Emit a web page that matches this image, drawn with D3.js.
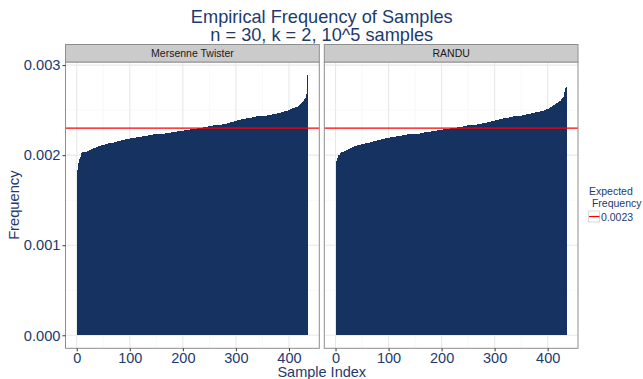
<!DOCTYPE html>
<html>
<head>
<meta charset="utf-8">
<script src="https://cdn.jsdelivr.net/npm/d3@7/dist/d3.min.js"></script>
<style>
  body { margin: 0; background: #fff; }
  text { font-family: "Liberation Sans", Arial, sans-serif; }
</style>
</head>
<body>
<div id="chart"></div>
<script>
// how many times each of the 435 (= choose(30, 2)) samples came up in 10^5 draws, sorted
const mersenneCounts = [
  183,188,191,193,196,197,198,201,202,202, 203,203,203,203,204,204,204,204,205,205,
  205,205,205,206,206,206,206,207,207,207, 207,208,208,208,208,209,209,209,209,209,
  210,210,210,210,210,210,211,211,211,211, 211,211,211,212,212,212,212,212,212,213,
  213,213,213,213,214,214,214,214,214,215, 215,215,215,215,215,216,216,216,216,216,
  216,216,216,217,217,217,217,217,217,217, 217,218,218,218,218,218,218,218,218,218,
  219,219,219,219,219,219,219,219,219,219, 219,220,220,220,220,220,220,220,220,220,
  220,220,221,221,221,221,221,221,221,221, 221,221,221,222,222,222,222,222,222,222,
  222,222,222,223,223,223,223,223,223,223, 223,223,223,223,224,224,224,224,224,224,
  224,224,224,224,224,225,225,225,225,225, 225,225,225,225,225,225,225,226,226,226,
  226,226,226,226,226,226,226,226,227,227, 227,227,227,227,227,227,227,227,227,227,
  227,228,228,228,228,228,228,228,228,228, 228,228,228,229,229,229,229,229,229,229,
  229,229,229,229,229,229,230,230,230,230, 230,230,230,230,230,230,230,231,231,231,
  231,231,231,231,231,231,232,232,232,232, 232,232,232,232,232,232,233,233,233,233,
  233,233,233,233,233,234,234,234,234,234, 234,234,234,234,235,235,235,235,235,235,
  235,235,236,236,236,236,236,236,237,237, 237,237,237,237,237,238,238,238,238,238,
  238,238,239,239,239,239,239,239,239,240, 240,240,240,240,240,240,240,240,241,241,
  241,241,241,241,241,241,241,241,241,242, 242,242,242,242,242,242,242,243,243,243,
  243,243,243,243,243,243,243,244,244,244, 244,244,244,244,244,244,244,244,245,245,
  245,245,245,245,245,245,245,246,246,246, 246,246,246,246,246,246,246,247,247,247,
  247,247,247,247,248,248,248,248,248,248, 248,249,249,249,249,249,249,250,250,250,
  250,250,251,251,251,251,252,252,252,252, 253,253,253,254,254,254,255,255,256,256,
  257,257,258,258,259,259,260,261,262,263, 264,266,268,272,289
];

const randuCounts = [
  190,193,195,197,199,200,200,201,202,203, 203,203,204,204,204,204,205,205,205,206,
  206,206,206,207,207,207,207,208,208,208, 208,209,209,209,209,210,210,210,210,210,
  211,211,211,211,211,211,211,212,212,212, 212,212,212,212,212,213,213,213,213,213,
  214,214,214,214,214,215,215,215,215,215, 215,216,216,216,216,216,216,216,217,217,
  217,217,217,217,217,218,218,218,218,218, 218,218,218,219,219,219,219,219,219,219,
  219,219,219,220,220,220,220,220,220,220, 220,220,220,220,221,221,221,221,221,221,
  221,221,221,221,222,222,222,222,222,222, 222,222,222,222,222,223,223,223,223,223,
  223,223,223,223,223,223,223,224,224,224, 224,224,224,224,224,224,224,224,225,225,
  225,225,225,225,225,225,225,226,226,226, 226,226,226,226,226,226,226,226,226,227,
  227,227,227,227,227,227,227,227,227,227, 227,228,228,228,228,228,228,228,228,228,
  228,228,229,229,229,229,229,229,229,229, 229,229,229,229,229,229,230,230,230,230,
  230,230,230,230,230,230,230,230,231,231, 231,231,231,231,231,231,231,231,231,232,
  232,232,232,232,232,232,232,232,233,233, 233,233,233,233,233,233,233,233,234,234,
  234,234,234,234,234,234,234,235,235,235, 235,235,235,235,235,235,236,236,236,236,
  236,236,236,236,236,237,237,237,237,237, 237,237,237,238,238,238,238,238,238,238,
  238,239,239,239,239,239,239,239,240,240, 240,240,240,240,240,240,241,241,241,241,
  241,241,241,241,241,241,242,242,242,242, 242,242,242,242,243,243,243,243,243,243,
  243,243,244,244,244,244,244,244,244,244, 244,245,245,245,245,245,245,245,245,246,
  246,246,246,246,246,246,246,246,247,247, 247,247,247,247,247,247,248,248,248,248,
  248,248,248,248,248,249,249,249,249,249, 249,249,250,250,250,250,250,251,251,251,
  251,251,252,252,253,253,254,254,255,255, 256,256,256,257,257,257,258,258,258,259,
  259,260,260,260,261,262,262,263,264,265, 268,270,274,275,276
];

const totalDraws = 1e5;
const expectedFreq = 0.0023;
const panelNames = ["Mersenne Twister", "RANDU"];
const xTicks = [0, 100, 200, 300, 400];
const xMinorTicks = [50, 150, 250, 350];
const yTicks = [0, 0.001, 0.002, 0.003];
const yMinorTicks = [0.0005, 0.0015, 0.0025];
const titleLines = ["Empirical Frequency of Samples", "n = 30, k = 2, 10^5 samples"];

const width = 643, height = 379;
const navy = "#1e3a6e";
const barFill = "#163261";

// panel boxes (pixels)
const panelTop = 62, panelBottom = 348.3;
const stripTop = 44.5;
const panelBoxes = [{x0: 65.5, x1: 319.3}, {x0: 324.3, x1: 578}];

const series = [mersenneCounts, randuCounts].map(c => c.map((v, i) => ({idx: i + 1, freq: v / totalDraws})));

// ggplot-like 5% expansion, bars are 0.9 wide
const n = mersenneCounts.length;
const xlo = 0.55, xhi = n + 0.45;
const xpad = (xhi - xlo) * 0.05;
const ymax = d3.max(series, s => d3.max(s, d => d.freq));
const ypad = ymax * 0.05;

const y = d3.scaleLinear().domain([-ypad, ymax + ypad]).range([panelBottom, panelTop]);

const svg = d3.select("#chart").append("svg")
  .attr("width", width)
  .attr("height", height)
  .style("background", "#fff");

// title
svg.append("g").selectAll("text").data(titleLines).join("text")
  .attr("x", (panelBoxes[0].x0 + panelBoxes[1].x1) / 2)
  .attr("y", (d, i) => 22.5 + i * 18)
  .attr("text-anchor", "middle")
  .attr("font-size", 18.2)
  .attr("fill", navy)
  .text(d => d);

series.forEach((data, p) => {
  const box = panelBoxes[p];
  const x = d3.scaleLinear().domain([xlo - xpad, xhi + xpad]).range([box.x0, box.x1]);
  const g = svg.append("g");

  // grid
  g.selectAll(".xminor").data(xMinorTicks).join("line")
    .attr("x1", d => x(d)).attr("x2", d => x(d))
    .attr("y1", panelTop).attr("y2", panelBottom)
    .attr("stroke", "#f4f4f4").attr("stroke-width", 0.6);
  g.selectAll(".yminor").data(yMinorTicks).join("line")
    .attr("x1", box.x0).attr("x2", box.x1)
    .attr("y1", d => y(d)).attr("y2", d => y(d))
    .attr("stroke", "#f4f4f4").attr("stroke-width", 0.6);
  g.selectAll(".xmajor").data(xTicks).join("line")
    .attr("x1", d => x(d)).attr("x2", d => x(d))
    .attr("y1", panelTop).attr("y2", panelBottom)
    .attr("stroke", "#e8e8e8").attr("stroke-width", 1.1);
  g.selectAll(".ymajor").data(yTicks).join("line")
    .attr("x1", box.x0).attr("x2", box.x1)
    .attr("y1", d => y(d)).attr("y2", d => y(d))
    .attr("stroke", "#e8e8e8").attr("stroke-width", 1.1);

  // bars: a bit wider than 0.9 units and crisp, so the thin columns read as one solid block
  g.append("g").attr("shape-rendering", "crispEdges")
    .selectAll("rect").data(data).join("rect")
    .attr("x", d => x(d.idx - 0.45))
    .attr("width", x(0.9) - x(0) + 0.6)
    .attr("y", d => y(d.freq))
    .attr("height", d => y(0) - y(d.freq))
    .attr("fill", barFill);

  // expected frequency line
  g.append("line")
    .attr("x1", box.x0).attr("x2", box.x1)
    .attr("y1", y(expectedFreq)).attr("y2", y(expectedFreq))
    .attr("stroke", "red").attr("stroke-width", 1.2);

  // border
  g.append("rect")
    .attr("x", box.x0).attr("y", panelTop)
    .attr("width", box.x1 - box.x0).attr("height", panelBottom - panelTop)
    .attr("fill", "none").attr("stroke", "#8e8e8e").attr("stroke-width", 1);

  // strip
  g.append("rect")
    .attr("x", box.x0).attr("y", stripTop)
    .attr("width", box.x1 - box.x0).attr("height", panelTop - stripTop)
    .attr("fill", "#cbcbcb").attr("stroke", "#8e8e8e").attr("stroke-width", 1);
  g.append("text")
    .attr("x", (box.x0 + box.x1) / 2).attr("y", 57)
    .attr("text-anchor", "middle")
    .attr("font-size", 10.5)
    .attr("fill", "#1a1a1a")
    .text(panelNames[p]);

  // x axis
  const xAxis = g.append("g")
    .attr("transform", `translate(0,${panelBottom})`)
    .call(d3.axisBottom(x).tickValues(xTicks).tickSize(3).tickPadding(1.5).tickFormat(d3.format("d")));
  xAxis.select(".domain").remove();
  xAxis.selectAll(".tick line").attr("stroke", "#333");
  xAxis.selectAll(".tick text").attr("font-size", 14.5).attr("fill", navy)
    .attr("font-family", "Liberation Sans, Arial, sans-serif");
});

// y axis (left panel only)
const yAxis = svg.append("g")
  .attr("transform", `translate(${panelBoxes[0].x0},0)`)
  .call(d3.axisLeft(y).tickValues(yTicks).tickSize(3).tickPadding(2).tickFormat(d3.format(".3f")));
yAxis.select(".domain").remove();
yAxis.selectAll(".tick line").attr("stroke", "#333");
yAxis.selectAll(".tick text").attr("font-size", 14.7).attr("fill", navy)
  .attr("font-family", "Liberation Sans, Arial, sans-serif");

// axis titles
svg.append("text")
  .attr("x", (panelBoxes[0].x0 + panelBoxes[1].x1) / 2).attr("y", 377)
  .attr("text-anchor", "middle").attr("font-size", 14.5).attr("fill", navy)
  .text("Sample Index");
svg.append("text")
  .attr("transform", `translate(19,${(panelTop + panelBottom) / 2}) rotate(-90)`)
  .attr("text-anchor", "middle").attr("font-size", 14.7).attr("fill", navy)
  .text("Frequency");

// legend
const legend = svg.append("g").attr("transform", "translate(588,0)");
legend.append("text").attr("x", 1).attr("y", 195).attr("font-size", 10.5).attr("fill", navy).text("Expected");
legend.append("text").attr("x", 1).attr("y", 206.5).attr("font-size", 10.5).attr("fill", navy)
  .attr("xml:space", "preserve").style("white-space", "pre").text(" Frequency");
legend.append("rect").attr("x", 0.5).attr("y", 211).attr("width", 11).attr("height", 11)
  .attr("fill", "#fff").attr("stroke", "#d0d0d0").attr("stroke-width", 0.8);
legend.append("line").attr("x1", 1).attr("x2", 11.5).attr("y1", 216.5).attr("y2", 216.5)
  .attr("stroke", "red").attr("stroke-width", 1.2);
legend.append("text").attr("x", 13).attr("y", 220.5).attr("font-size", 10.5).attr("fill", navy)
  .text(expectedFreq);
</script>
</body>
</html>
